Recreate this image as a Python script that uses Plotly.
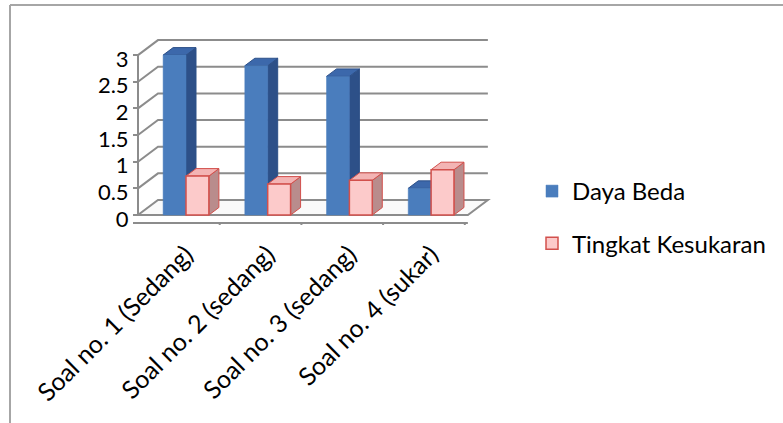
import plotly.graph_objects as go

# ---- data ----
categories = ["Soal no. 1 (Sedang)", "Soal no. 2 (sedang)", "Soal no. 3 (sedang)", "Soal no. 4 (sukar)"]
daya_beda = [3.0, 2.8, 2.6, 0.5]
tingkat_kesukaran = [0.73, 0.58, 0.65, 0.85]
y_ticks = [0, 0.5, 1, 1.5, 2, 2.5, 3]
y_ticktext = ["0", "0.5", "1", "1.5", "2", "2.5", "3"]

# ---- geometry (axis units) ----
W, H = 783, 423
PX_X = 81.7      # pixels per category
PX_Y = 53.3      # pixels per value unit
X0_PIX = 186     # pixel of category 0
Y0_PIX = 215     # pixel of value 0
x_range = [-X0_PIX / PX_X, (W - X0_PIX) / PX_X]
y_range = [(Y0_PIX - H) / PX_Y, Y0_PIX / PX_Y]

BAR_W = 0.28
DEPTH_DX = 10 / PX_X      # bar depth
DEPTH_DY = 7.5 / PX_Y
WALL_DX = 20 / PX_X       # wall depth
WALL_DY = 15 / PX_Y
n = len(categories)
xs = list(range(n))
x_left = -0.5 - 0.0875
x_right = n - 0.5 - 0.05

GRID = "#8c8c8c"
shapes = []

def path(pts):
    return "M " + " L ".join(f"{a:.4f},{b:.4f}" for a, b in pts) + " Z"

# floor
shapes.append(dict(type="path", xref="x", yref="y", layer="below",
                   path=path([(x_left, 0), (x_right, 0), (x_right + WALL_DX, WALL_DY), (x_left + WALL_DX, WALL_DY)]),
                   fillcolor="#fafafa", line=dict(color=GRID, width=2)))
# gridlines on left wall + back wall
for v in y_ticks[1:]:
    shapes.append(dict(type="path", xref="x", yref="y", layer="below",
                       path=f"M {x_left},{v} L {x_left + WALL_DX},{v + WALL_DY} L {x_right + WALL_DX},{v + WALL_DY}",
                       line=dict(color=GRID, width=2)))
# left wall front edge
shapes.append(dict(type="line", xref="x", yref="y", layer="below",
                   x0=x_left, x1=x_left, y0=0, y1=max(y_ticks), line=dict(color=GRID, width=2)))
# front category axis line
ax_y = -8 / PX_Y
shapes.append(dict(type="line", xref="x", yref="y", layer="below",
                   x0=x_left - 5 / PX_X, x1=x_right, y0=ax_y, y1=ax_y, line=dict(color=GRID, width=2)))
for k in range(1, n + 1):
    xb = x_left + k
    shapes.append(dict(type="line", xref="x", yref="y", layer="below",
                       x0=xb, x1=xb, y0=ax_y, y1=ax_y - 2 / PX_Y, line=dict(color=GRID, width=2)))

# 3D faces of bars
def bar_faces(values, offset, side_col, top_col, edge):
    for x, v in zip(xs, values):
        xl = x + offset
        xr = xl + BAR_W
        shapes.append(dict(type="path", xref="x", yref="y", layer="below",
                           path=path([(xr, 0), (xr + DEPTH_DX, DEPTH_DY), (xr + DEPTH_DX, v + DEPTH_DY), (xr, v)]),
                           fillcolor=side_col, line=dict(color=edge, width=1)))
        shapes.append(dict(type="path", xref="x", yref="y", layer="below",
                           path=path([(xl, v), (xl + DEPTH_DX, v + DEPTH_DY), (xr + DEPTH_DX, v + DEPTH_DY), (xr, v)]),
                           fillcolor=top_col, line=dict(color=edge, width=1)))

bar_faces(daya_beda, -BAR_W, "#2d5088", "#3c68ab", "#2d5088")
bar_faces(tingkat_kesukaran, 0.0, "#b98c8c", "#f3b4b4", "#d2504c")

# outer frame
shapes.append(dict(type="line", xref="paper", yref="paper", x0=10 / W, x1=1, y0=1 - 5 / H, y1=1 - 5 / H,
                   line=dict(color="#a6a6a6", width=2)))
shapes.append(dict(type="line", xref="paper", yref="paper", x0=10 / W, x1=10 / W, y0=0, y1=1 - 5 / H,
                   line=dict(color="#a6a6a6", width=2)))

fig = go.Figure()
fig.add_trace(go.Bar(x=xs, y=daya_beda, name="Daya Beda", width=BAR_W, offset=-BAR_W,
                     marker=dict(color="#4a7dbd", line=dict(color="#4a7dbd", width=0.5)),
                     legendgroup="a"))
fig.add_trace(go.Bar(x=xs, y=tingkat_kesukaran, name="Tingkat Kesukaran", width=BAR_W, offset=0,
                     marker=dict(color="#fccaca", line=dict(color="#d2504c", width=1.5)),
                     legendgroup="b"))

FONT = "Lato, Open Sans, sans-serif"
fig.update_layout(
    width=W, height=H,
    margin=dict(l=0, r=0, t=0, b=0),
    paper_bgcolor="white", plot_bgcolor="white",
    font=dict(family=FONT, color="black"),
    barmode="overlay",
    showlegend=True,
    legend=dict(x=532 / W, y=1 - 169 / H, xanchor="left", yanchor="top",
                font=dict(size=24, family=FONT), traceorder="grouped", tracegroupgap=18,
                bgcolor="rgba(0,0,0,0)", itemwidth=30),
    shapes=shapes,
    xaxis=dict(range=x_range, showgrid=False, zeroline=False, showline=False,
               tickvals=xs, ticktext=categories, tickangle=-45, ticks="",
               anchor="free", position=1 - 234 / H, tickfont=dict(size=25, family=FONT),
               fixedrange=True),
    yaxis=dict(range=y_range, showgrid=False, zeroline=False, showline=False,
               tickvals=y_ticks, ticktext=y_ticktext, ticks="outside", ticklen=5,
               tickcolor=GRID, tickwidth=2, ticklabelshift=4,
               anchor="free", position=(X0_PIX + x_left * PX_X) / W,
               tickfont=dict(size=22, family=FONT), fixedrange=True),
)

fig.write_html("out.html")
